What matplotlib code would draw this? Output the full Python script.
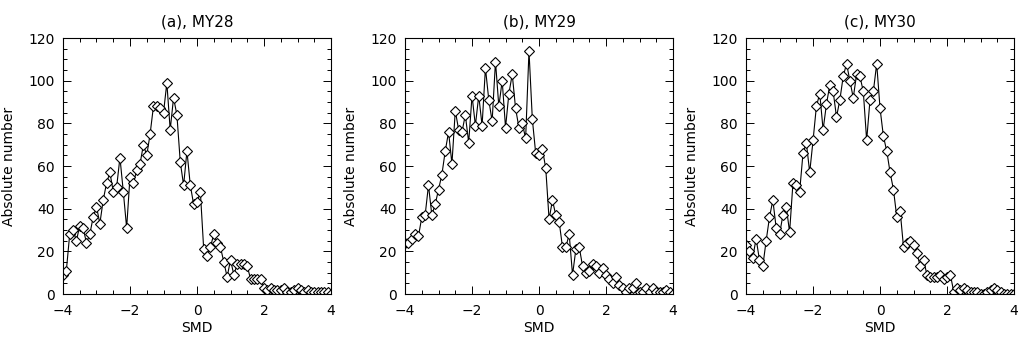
import numpy as np
import matplotlib
matplotlib.use('Agg')
import matplotlib.pyplot as plt
from matplotlib.ticker import MultipleLocator

# SMD bins, -4 to 4 in steps of 0.1
smd = np.arange(-40, 41) / 10.0

# counts, one value per bin
my28 = [9, 11, 28, 30, 25, 32, 31, 24, 28, 36,
        41, 33, 44, 52, 57, 48, 50, 64, 48, 31,
        55, 52, 58, 61, 70, 65, 75, 88, 88, 87,
        85, 99, 77, 92, 84, 62, 51, 67, 51, 42,
        43, 48, 21, 18, 22, 28, 24, 22, 15, 8,
        16, 9, 14, 14, 14, 13, 7, 7, 7, 7,
        3, 2, 3, 2, 2, 2, 3, 1, 1, 2,
        3, 2, 1, 2, 1, 1, 1, 1, 1, 1, 0]

my29 = [24, 24, 26, 28, 27, 36, 37, 51, 37, 42,
        49, 56, 67, 76, 61, 86, 77, 76, 84, 71,
        93, 79, 93, 79, 106, 91, 81, 109, 88, 100,
        78, 94, 103, 87, 78, 80, 73, 114, 82, 66,
        65, 68, 59, 35, 44, 37, 34, 22, 22, 28,
        9, 21, 22, 13, 10, 11, 14, 13, 10, 12,
        9, 7, 5, 8, 4, 3, 1, 3, 3, 5,
        1, 1, 3, 1, 3, 1, 1, 1, 2, 1, 0]

my30 = [23, 20, 17, 26, 16, 13, 25, 36, 44, 31,
        28, 37, 41, 29, 52, 51, 48, 66, 71, 57,
        72, 88, 94, 77, 89, 98, 95, 83, 91, 102,
        108, 100, 92, 103, 102, 95, 72, 91, 95, 108,
        87, 74, 67, 57, 49, 36, 39, 22, 24, 25,
        23, 19, 13, 16, 9, 8, 8, 8, 9, 7,
        8, 9, 1, 3, 2, 3, 2, 1, 1, 1,
        0, 0, 1, 2, 3, 2, 1, 0, 0, 0, 0]

titles = ['(a), MY28', '(b), MY29', '(c), MY30']
series = [my28, my29, my30]

plt.rcParams['font.family'] = ['DejaVu Sans']
fig = plt.figure(figsize=(10.21, 3.44), dpi=100)

lefts = [0.0617, 0.3967, 0.7307]
for left, title, counts in zip(lefts, titles, series):
    ax = fig.add_axes([left, 0.1453, 0.2625, 0.744])
    ax.plot(smd, counts, color='black', linewidth=0.8, marker='D',
            markersize=5.5, markerfacecolor='white', markeredgecolor='black',
            markeredgewidth=0.8)
    ax.set_xlim(-4, 4)
    ax.set_ylim(0, 120)
    ax.xaxis.set_major_locator(MultipleLocator(2))
    ax.xaxis.set_minor_locator(MultipleLocator(0.5))
    ax.yaxis.set_major_locator(MultipleLocator(20))
    ax.yaxis.set_minor_locator(MultipleLocator(5))
    ax.tick_params(which='both', direction='in', top=True, right=True,
                   width=0.7, labelsize=10)
    ax.tick_params(which='major', length=6)
    ax.tick_params(which='minor', length=3)
    ax.tick_params(axis='x', which='major', pad=7)
    ax.tick_params(axis='y', which='major', pad=6)
    for s in ax.spines.values():
        s.set_linewidth(0.8)
    ax.set_title(title, fontsize=11, pad=8)
    ax.set_xlabel('SMD', fontsize=10, labelpad=2)
    ax.set_ylabel('Absolute number', fontsize=10, labelpad=9)

fig.savefig('out.png', dpi=100)
